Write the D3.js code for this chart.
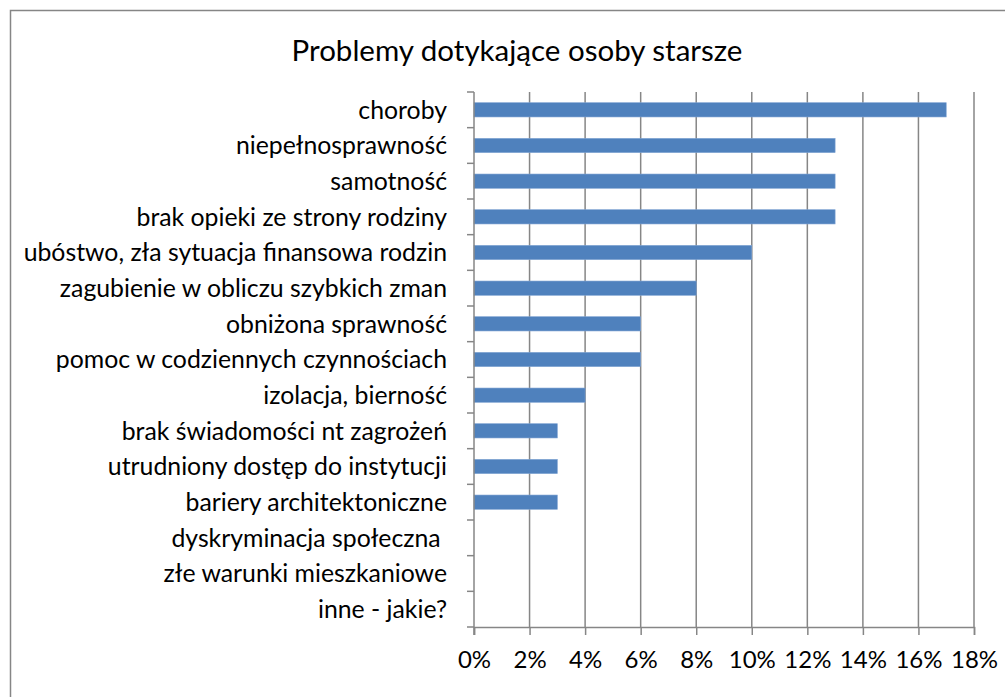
<!DOCTYPE html>
<html>
<head>
<meta charset="utf-8">
<script src="https://cdn.jsdelivr.net/npm/d3@7"></script>
<style>
body { margin: 0; background: #fff; }
text { font-family: Lato, "Open Sans", sans-serif; fill: #000; white-space: pre; }
</style>
</head>
<body>
<div id="chart"></div>
<script>
var title = "Problemy dotykające osoby starsze";

var categories = [
    "choroby",
    "niepełnosprawność",
    "samotność",
    "brak opieki ze strony rodziny",
    "ubóstwo, zła sytuacja finansowa rodzin",
    "zagubienie w obliczu szybkich zman",
    "obniżona sprawność",
    "pomoc w codziennych czynnościach",
    "izolacja, bierność",
    "brak świadomości nt zagrożeń",
    "utrudniony dostęp do instytucji",
    "bariery architektoniczne",
    "dyskryminacja społeczna ",
    "złe warunki mieszkaniowe",
    "inne - jakie?"
];

var values = [17, 13, 13, 13, 10, 8, 6, 6, 4, 3, 3, 3, 0, 0, 0];

var xTicks = [0, 2, 4, 6, 8, 10, 12, 14, 16, 18];

var width = 1005, height = 697;
var plotLeft = 474, plotRight = 974, plotTop = 92, plotBottom = 627;
var grey = "#868686";

var svg = d3.select("#chart").append("svg")
    .attr("width", width).attr("height", height);

// chart border
svg.append("rect")
    .attr("x", 10.5).attr("y", 10.5)
    .attr("width", width + 20).attr("height", height + 20)
    .attr("fill", "none").attr("stroke", grey).attr("stroke-width", 1.5);

svg.append("text")
    .attr("x", 517).attr("y", 61)
    .attr("text-anchor", "middle")
    .style("font-size", "29.5px")
    .text(title);

var x = d3.scaleLinear().domain([0, 18]).range([plotLeft, plotRight]);
var y = d3.scaleBand().domain(categories).range([plotTop, plotBottom]).paddingInner(0.6).paddingOuter(0.3);
var yb = d3.scaleBand().domain(categories).range([plotTop, plotBottom]);

// gridlines
svg.append("g").selectAll("line")
    .data(xTicks.slice(1))
    .enter().append("line")
    .attr("x1", d => x(d)).attr("x2", d => x(d))
    .attr("y1", plotTop).attr("y2", plotBottom)
    .attr("stroke", grey).attr("stroke-width", 1.5);

// bars
svg.append("g").selectAll("rect")
    .data(values)
    .enter().append("rect")
    .attr("x", x(0))
    .attr("y", (d, i) => y(categories[i]))
    .attr("width", d => x(d) - x(0))
    .attr("height", y.bandwidth())
    .attr("fill", "#4f81bd")
    .attr("stroke", "#7fa3d3").attr("stroke-width", 0.6);

// x axis
var xAxis = svg.append("g")
    .attr("transform", "translate(0," + plotBottom + ")")
    .call(d3.axisBottom(x).tickValues(xTicks).tickSize(8).tickPadding(16).tickFormat(d => d + "%"));
xAxis.select(".domain").attr("stroke", grey).attr("stroke-width", 1.5);
xAxis.selectAll(".tick line").attr("stroke", grey).attr("stroke-width", 1.5);
xAxis.selectAll("text").style("font-size", "24px").style("font-family", "Lato, sans-serif");

// y axis, ticks on band boundaries
svg.append("line")
    .attr("x1", plotLeft).attr("x2", plotLeft).attr("y1", plotTop).attr("y2", plotBottom + 8)
    .attr("stroke", grey).attr("stroke-width", 1.5);
svg.append("g").selectAll("line")
    .data(categories)
    .enter().append("line")
    .attr("x1", plotLeft - 7).attr("x2", plotLeft)
    .attr("y1", d => yb(d)).attr("y2", d => yb(d))
    .attr("stroke", grey).attr("stroke-width", 1.5);
svg.append("line")
    .attr("x1", plotLeft - 7).attr("x2", plotLeft).attr("y1", plotBottom).attr("y2", plotBottom)
    .attr("stroke", grey).attr("stroke-width", 1.5);

svg.append("g").selectAll("text")
    .data(categories)
    .enter().append("text")
    .attr("x", 447)
    .attr("y", d => yb(d) + yb.bandwidth() / 2)
    .attr("dy", "0.35em")
    .attr("text-anchor", "end")
    .style("font-size", "24.8px")
    .text(d => d);
</script>
</body>
</html>
